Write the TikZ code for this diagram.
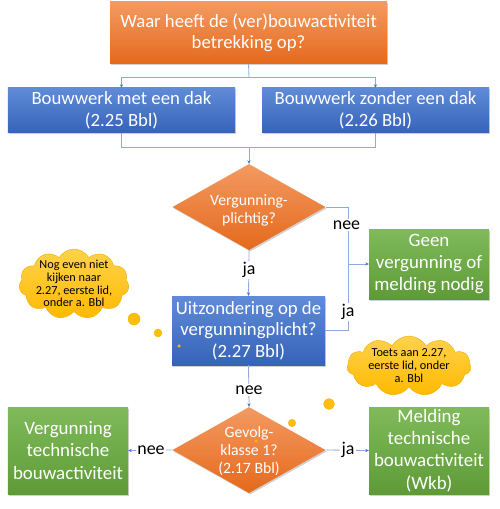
\documentclass[tikz,border=0pt]{standalone}
\usepackage{fontspec}
\setmainfont{Carlito}
\usetikzlibrary{shapes.geometric,shapes.symbols,shadows,arrows.meta}
\definecolor{lineblue}{HTML}{8FAADC}
\definecolor{arrblue}{HTML}{4472C4}
\definecolor{orTop}{HTML}{F39A62}
\definecolor{orBot}{HTML}{E5691C}
\definecolor{blTop}{HTML}{5F8BD8}
\definecolor{blBot}{HTML}{3663B8}
\definecolor{grTop}{HTML}{80BA5A}
\definecolor{grBot}{HTML}{5E9B38}
\definecolor{ylTop}{HTML}{FFD24D}
\definecolor{ylBot}{HTML}{FFBA00}
\definecolor{ylBorder}{HTML}{F0B000}
\begin{document}
\begin{tikzpicture}[x=1bp,y=-1bp,
  shad/.style={drop shadow={shadow xshift=1.2bp,shadow yshift=-1.5bp,opacity=0.3,fill=black!60}},
  box/.style={rectangle, inner sep=2pt, align=center, text=white, shad,
    font=\fontsize{18.8}{21.5}\selectfont},
  orangebox/.style={box, top color=orTop, bottom color=orBot},
  bluebox/.style={box, top color=blTop, bottom color=blBot},
  greenbox/.style={box, top color=grTop, bottom color=grBot},
  decision/.style={diamond, inner sep=0pt, shad, top color=orTop, bottom color=orBot,
    minimum width=153bp, minimum height=86bp},
  dtext/.style={text=white, align=center, inner sep=0pt, font=\fontsize{15.8}{18}\selectfont},
  lbl/.style={fill=white, inner sep=1.5pt, text=black, font=\fontsize{18}{20}\selectfont},
  conn/.style={draw=lineblue, line width=0.8bp},
  arr/.style={conn, -{Stealth[length=3.5bp,width=3.2bp,color=arrblue]}},
  thought/.style={cloud, cloud puffs=11, cloud puff arc=120, inner sep=0pt,
    top color=ylTop, bottom color=ylBot, draw=ylBorder, line width=0.4bp},
  ctext/.style={align=center, inner sep=0pt, text=black, font=\fontsize{12.3}{12.9}\selectfont},
  bubble/.style={circle, inner sep=0pt, fill=ylBot!85!ylTop, draw=ylBorder, line width=0.3bp}
]
\fill[white] (0,0) rectangle (500,509);
\useasboundingbox (0,0) rectangle (500,509);

% boxes
\node[orangebox, minimum width=277bp, minimum height=62bp] (top) at (248.5,33)
  {Waar heeft de (ver)bouwactiviteit\\betrekking op?};
\node[bluebox, minimum width=227bp, minimum height=45bp] (lb) at (121.5,110.5)
  {Bouwwerk met een dak\\(2.25 Bbl)};
\node[bluebox, minimum width=227bp, minimum height=45bp] (rb) at (375.5,110.5)
  {Bouwwerk zonder een dak\\(2.26 Bbl)};
\node[decision] (d1) at (249,207) {};
\node[dtext] (d1t) at (249,210.5) {Vergunning-\\plichtig?};
\node[bluebox, minimum width=153bp, minimum height=69bp] (uz) at (248.5,330.5)
  {Uitzondering op de\\vergunningplicht?\\(2.27 Bbl)};
\node[greenbox, minimum width=120bp, minimum height=70bp,
  font=\fontsize{19}{22.5}\selectfont] (geen) at (429,264)
  {Geen\\vergunning of\\melding nodig};
\node[decision] (d2) at (249,450) {};
\node[dtext] (d2t) at (249,451) {Gevolg-\\klasse 1?\\(2.17 Bbl)};
\node[greenbox, minimum width=120bp, minimum height=87bp,
  font=\fontsize{19}{22.5}\selectfont] (lg) at (68,450.5)
  {Vergunning\\technische\\bouwactiviteit};
\node[greenbox, minimum width=120bp, minimum height=87bp,
  font=\fontsize{19}{22.5}\selectfont] (rg) at (429,450.5)
  {Melding\\technische\\bouwactiviteit\\(Wkb)};

% junctions
\coordinate (j1) at (249,77);
\coordinate (j2) at (249,147);
\coordinate (jg) at (348,264);

% connectors
\draw[conn] (top.south) -- (j1);
\draw[arr] (j1) -| (lb.north);
\draw[arr] (j1) -| (rb.north);
\draw[conn] (lb.south) |- (j2);
\draw[conn] (rb.south) |- (j2);
\draw[arr] (j2) -- (d1.north);
\draw[arr] (d1.south) -- (uz.north);
\draw[conn] (d1.east) -| (jg);
\draw[conn] (jg) |- (uz.east);
\draw[arr] (jg) -- (geen.west);
\draw[arr] (uz.south) -- (d2.north);
\draw[arr] (d2.west) -- (lg.east);
\draw[arr] (d2.east) -- (rg.west);

% labels
\node[lbl] (l1) at (249,270) {ja};
\node[lbl] (l2) at (346.5,225) {nee};
\node[lbl] (l3) at (348,312) {ja};
\node[lbl] (l4) at (249,390) {nee};
\node[lbl] (l5) at (151,450) {nee};
\node[lbl] (l6) at (348,450) {ja};

% thought clouds
\node[thought, minimum width=110bp, minimum height=70bp] (c1) at (74,284) {};
\node[ctext] (c1t) at (74,283.5) {Nog even niet\\kijken naar\\2.27, eerste lid,\\onder a. Bbl};
\node[bubble, minimum size=12bp] (b11) at (134,319) {};
\node[bubble, minimum size=8bp] (b12) at (158,333) {};
\node[bubble, minimum size=3bp] (b13) at (179,346) {};

\node[thought, minimum width=124bp, minimum height=60bp] (c2) at (409,366) {};
\node[ctext] (c2t) at (409,365.5) {Toets aan 2.27,\\eerste lid, onder\\a. Bbl};
\node[bubble, minimum size=11bp] (b21) at (329,404) {};
\node[bubble, minimum size=7.5bp] (b22) at (292,423) {};
\node[bubble, minimum size=3bp] (b23) at (256,441) {};
\end{tikzpicture}
\end{document}
